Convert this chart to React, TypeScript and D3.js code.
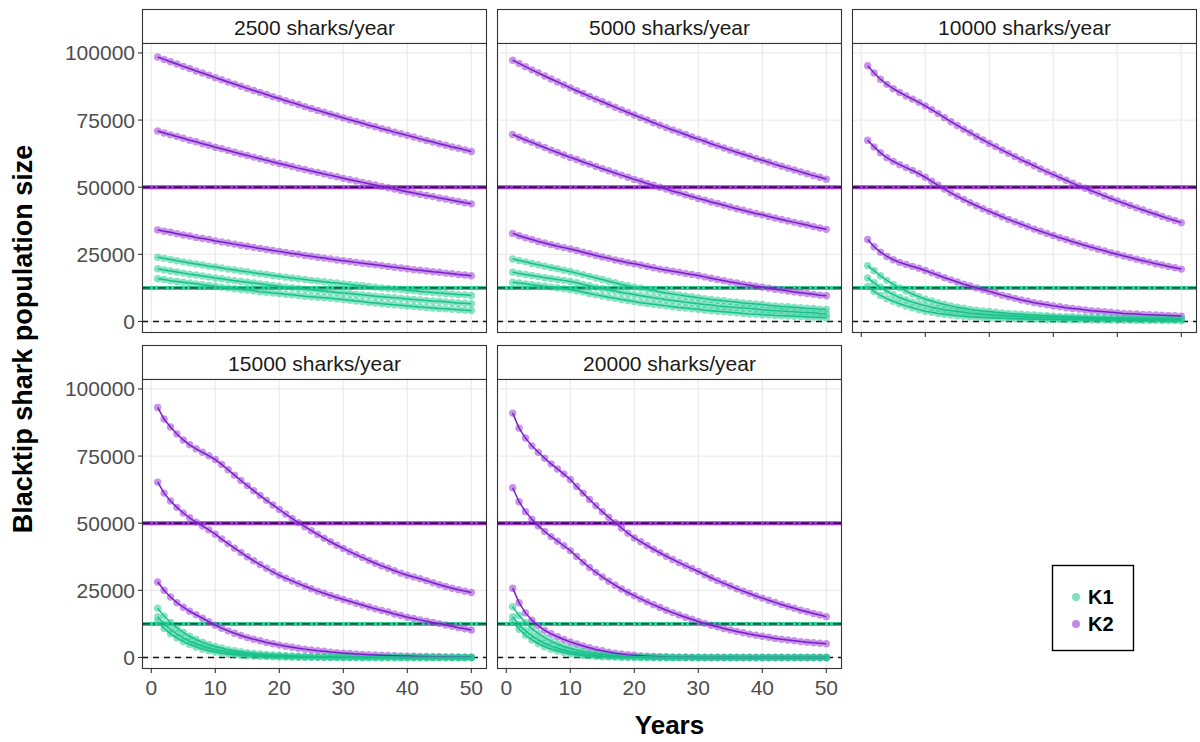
import React from "react";
import * as d3 from "d3";

// Years (x values)
const years = [1,2,3,4,5,6,7,8,9,10,11,12,13,14,15,16,17,18,19,20,21,22,23,24,25,26,27,28,29,30,31,32,33,34,35,36,37,38,39,40,41,42,43,44,45,46,47,48,49,50];

const panelLabels = ["2500 sharks/year", "5000 sharks/year", "10000 sharks/year", "15000 sharks/year", "20000 sharks/year"];
const xTicks = [0, 10, 20, 30, 40, 50];
const yTicks = [0, 25000, 50000, 75000, 100000];
const yTickLabels = ["0", "25000", "50000", "75000", "100000"];
const K1_line = 12500;
const K2_line = 50000;
const legendLabels = ["K1", "K2"];

// Population sizes in thousands of sharks
const h2500_K2a = [98.5,97.6,96.7,95.9,95.0,94.2,93.3,92.5,91.7,90.8,90.0,89.2,88.4,87.6,86.8,86.0,85.3,84.5,83.7,83.0,82.2,81.5,80.8,80.0,79.3,78.6,77.9,77.2,76.5,75.8,75.1,74.5,73.8,73.1,72.5,71.8,71.2,70.5,69.9,69.3,68.7,68.0,67.4,66.8,66.2,65.6,65.0,64.5,63.9,63.3];
const h2500_K2b = [70.9,70.2,69.5,68.9,68.2,67.5,66.9,66.2,65.6,64.9,64.3,63.7,63.0,62.4,61.8,61.2,60.6,60.0,59.4,58.8,58.3,57.7,57.1,56.6,56.0,55.5,54.9,54.4,53.9,53.3,52.8,52.3,51.8,51.3,50.8,50.3,49.8,49.3,48.8,48.3,47.8,47.4,46.9,46.5,46.0,45.6,45.1,44.7,44.2,43.8];
const h2500_K2c = [34.1,33.6,33.2,32.7,32.2,31.8,31.3,30.9,30.5,30.0,29.6,29.2,28.8,28.4,28.0,27.6,27.2,26.8,26.4,26.1,25.7,25.3,25.0,24.6,24.3,23.9,23.6,23.3,22.9,22.6,22.3,22.0,21.7,21.4,21.1,20.8,20.5,20.2,19.9,19.6,19.3,19.1,18.8,18.5,18.3,18.0,17.8,17.5,17.3,17.0];
const h2500_K1a = [23.9,23.5,23.1,22.6,22.2,21.8,21.4,21.0,20.6,20.3,19.9,19.5,19.2,18.8,18.5,18.1,17.8,17.5,17.1,16.8,16.5,16.2,15.9,15.6,15.3,15.1,14.8,14.5,14.3,14.0,13.8,13.5,13.3,13.0,12.8,12.5,12.3,12.1,11.9,11.6,11.4,11.2,11.0,10.8,10.6,10.4,10.2,10.0,9.9,9.7];
const h2500_K1b = [19.6,19.2,18.8,18.4,18.0,17.6,17.3,16.9,16.6,16.2,15.9,15.5,15.2,14.9,14.6,14.3,14.0,13.7,13.4,13.1,12.8,12.6,12.3,12.0,11.8,11.5,11.3,11.1,10.8,10.6,10.4,10.1,9.9,9.7,9.4,9.2,9.0,8.8,8.6,8.4,8.2,8.0,7.8,7.6,7.5,7.3,7.1,6.9,6.8,6.6];
const h2500_K1c = [15.9,15.6,15.2,14.9,14.6,14.3,14.0,13.7,13.4,13.1,12.8,12.5,12.2,11.9,11.7,11.4,11.1,10.9,10.6,10.4,10.1,9.9,9.7,9.4,9.2,9.0,8.8,8.6,8.4,8.2,7.9,7.6,7.4,7.1,6.9,6.6,6.4,6.2,6.0,5.8,5.6,5.4,5.2,5.0,4.8,4.7,4.5,4.4,4.2,4.1];

const h5000_K2a = [97.3,96.1,94.9,93.7,92.6,91.4,90.3,89.2,88.1,87.0,85.9,84.9,83.8,82.8,81.8,80.8,79.8,78.8,77.8,76.9,75.9,75.0,74.0,73.1,72.2,71.3,70.5,69.6,68.7,67.9,67.1,66.2,65.4,64.6,63.8,63.0,62.3,61.5,60.7,60.0,59.3,58.5,57.8,57.1,56.4,55.7,55.0,54.3,53.7,53.0];
const h5000_K2b = [69.6,68.6,67.6,66.7,65.7,64.8,63.8,62.9,62.0,61.1,60.3,59.4,58.6,57.7,56.9,56.1,55.3,54.5,53.7,52.9,52.2,51.4,50.7,50.0,49.3,48.5,47.9,47.2,46.5,45.8,45.2,44.5,43.9,43.3,42.6,42.0,41.4,40.8,40.2,39.7,39.1,38.5,38.0,37.4,36.9,36.4,35.9,35.3,34.8,34.3];
const h5000_K2c = [32.8,31.9,31.2,30.5,29.8,29.2,28.6,28.0,27.5,27.0,26.4,25.8,25.2,24.6,24.0,23.5,22.9,22.4,21.9,21.5,21.0,20.5,20.0,19.5,19.1,18.7,18.3,17.9,17.5,17.1,16.6,16.1,15.6,15.2,14.7,14.3,13.9,13.5,13.1,12.8,12.4,12.0,11.7,11.3,11.0,10.7,10.4,10.1,9.8,9.6];
const h5000_K1a = [23.3,22.7,22.2,21.6,21.1,20.6,20.1,19.6,19.1,18.6,18.0,17.4,16.8,16.2,15.6,15.0,14.4,13.8,13.3,12.8,12.4,11.9,11.5,11.0,10.6,10.2,9.9,9.5,9.2,8.8,8.5,8.2,7.9,7.7,7.4,7.2,6.9,6.7,6.5,6.3,6.0,5.8,5.6,5.5,5.3,5.1,4.9,4.8,4.6,4.5];
const h5000_K1b = [18.3,17.9,17.5,17.1,16.7,16.3,16.0,15.6,15.3,14.9,14.4,13.8,13.3,12.7,12.2,11.7,11.3,10.8,10.4,10.0,9.6,9.2,8.8,8.5,8.1,7.8,7.5,7.2,6.9,6.6,6.3,6.1,5.8,5.6,5.4,5.2,5.0,4.8,4.6,4.4,4.2,4.0,3.9,3.7,3.6,3.4,3.3,3.2,3.0,2.9];
const h5000_K1c = [14.6,14.3,14.0,13.7,13.4,13.1,12.8,12.5,12.2,11.8,11.4,11.0,10.4,9.9,9.5,9.0,8.6,8.2,7.8,7.4,7.0,6.7,6.4,6.1,5.8,5.5,5.2,5.0,4.7,4.5,4.2,4.0,3.8,3.6,3.4,3.2,3.0,2.8,2.7,2.5,2.4,2.2,2.1,2.0,1.9,1.8,1.7,1.6,1.5,1.4];

const h10000_K2a = [95.2,92.5,90.2,88.3,86.7,85.3,84.0,82.8,81.6,80.3,78.9,77.4,75.9,74.4,73.0,71.6,70.3,68.9,67.6,66.3,65.1,63.8,62.6,61.4,60.2,59.1,58.0,56.8,55.7,54.7,53.6,52.6,51.5,50.5,49.6,48.6,47.7,46.7,45.8,44.9,44.0,43.2,42.3,41.5,40.7,39.9,39.1,38.3,37.6,36.8];
const h10000_K2b = [67.5,65.0,62.8,61.0,59.6,58.4,57.3,56.2,55.0,53.7,52.2,50.7,49.3,47.9,46.6,45.4,44.2,43.1,42.0,41.0,40.0,39.0,38.0,37.1,36.2,35.3,34.4,33.6,32.8,32.0,31.2,30.5,29.7,29.0,28.3,27.6,26.9,26.3,25.6,25.0,24.4,23.8,23.2,22.6,22.1,21.5,21.0,20.5,20.0,19.5];
const h10000_K2c = [30.5,27.8,25.8,24.2,23.0,22.0,21.2,20.5,19.8,19.0,18.1,17.2,16.3,15.5,14.7,13.9,13.2,12.5,11.8,11.2,10.5,9.8,9.2,8.6,8.0,7.5,7.0,6.6,6.2,5.8,5.5,5.1,4.8,4.6,4.3,4.0,3.8,3.6,3.4,3.2,3.0,2.9,2.8,2.6,2.5,2.4,2.3,2.2,2.1,2.0];
const h10000_K1a = [20.8,18.9,17.0,15.3,13.8,12.5,11.3,10.2,9.2,8.3,7.6,6.9,6.3,5.8,5.3,4.9,4.5,4.2,3.9,3.7,3.4,3.2,3.0,2.8,2.7,2.5,2.4,2.2,2.1,2.0,1.9,1.8,1.75,1.7,1.6,1.55,1.5,1.45,1.4,1.35,1.3,1.3,1.25,1.2,1.2,1.15,1.1,1.1,1.05,1.0];
const h10000_K1b = [16.2,14.4,12.8,11.3,10.0,8.9,8.0,7.2,6.5,5.9,5.3,4.8,4.4,4.0,3.7,3.4,3.1,2.9,2.7,2.5,2.3,2.2,2.0,1.9,1.8,1.7,1.6,1.5,1.45,1.4,1.3,1.25,1.2,1.15,1.1,1.05,1.0,0.98,0.95,0.92,0.9,0.87,0.85,0.82,0.8,0.78,0.76,0.74,0.72,0.7];
const h10000_K1c = [13.0,11.2,9.7,8.5,7.5,6.6,5.8,5.1,4.4,3.8,3.4,3.0,2.7,2.4,2.1,1.9,1.7,1.6,1.5,1.4,1.3,1.2,1.1,1.0,0.95,0.9,0.85,0.8,0.75,0.7,0.68,0.65,0.62,0.6,0.58,0.55,0.52,0.5,0.48,0.46,0.44,0.42,0.4,0.39,0.37,0.36,0.34,0.33,0.32,0.3];

const h15000_K2a = [93.1,88.8,85.8,83.2,81.0,79.2,77.7,76.4,75.1,73.7,71.9,69.9,67.9,65.9,64.0,62.1,60.3,58.5,56.8,55.1,53.4,51.8,50.2,48.7,47.2,45.8,44.4,43.1,41.8,40.6,39.4,38.3,37.2,36.1,35.1,34.1,33.2,32.3,31.4,30.6,30.0,29.3,28.6,27.8,27.1,26.4,25.8,25.2,24.7,24.2];
const h15000_K2b = [65.3,61.2,58.3,55.9,53.8,52.0,50.4,49.0,47.5,45.9,44.1,42.4,40.7,39.1,37.5,36.0,34.6,33.2,31.9,30.6,29.5,28.5,27.5,26.5,25.6,24.7,23.9,23.1,22.3,21.6,20.9,20.2,19.5,18.8,18.1,17.5,16.9,16.2,15.6,15.0,14.5,14.0,13.5,13.0,12.6,12.1,11.6,11.1,10.7,10.2];
const h15000_K2c = [28.1,25.0,22.5,20.4,18.7,17.2,15.9,14.6,13.3,12.0,10.9,9.9,9.0,8.2,7.4,6.8,6.2,5.6,5.1,4.6,4.2,3.8,3.4,3.1,2.8,2.5,2.3,2.0,1.8,1.6,1.45,1.3,1.15,1.0,0.9,0.8,0.72,0.64,0.57,0.5,0.44,0.39,0.34,0.3,0.26,0.22,0.19,0.16,0.13,0.1];
const h15000_K1a = [18.3,15.4,13.0,11.0,9.3,7.9,6.7,5.7,4.8,4.1,3.5,2.9,2.5,2.1,1.8,1.5,1.3,1.1,0.9,0.8,0.65,0.55,0.45,0.38,0.32,0.27,0.22,0.18,0.15,0.12,0.1,0.08,0.07,0.06,0.05,0.04,0.03,0.03,0.02,0.02,0.02,0.01,0.01,0.01,0.01,0,0,0,0,0];
const h15000_K1b = [15.2,12.6,10.5,8.8,7.3,6.1,5.1,4.2,3.5,2.9,2.4,2.0,1.7,1.4,1.15,0.95,0.8,0.65,0.55,0.45,0.37,0.3,0.25,0.2,0.16,0.13,0.1,0.08,0.06,0.05,0.04,0.03,0.02,0.02,0.01,0.01,0.01,0,0,0,0,0,0,0,0,0,0,0,0,0];
const h15000_K1c = [13.3,10.8,8.8,7.2,5.9,4.8,3.9,3.1,2.5,2.0,1.6,1.3,1.0,0.8,0.65,0.5,0.4,0.32,0.25,0.2,0.15,0.12,0.09,0.07,0.05,0.04,0.03,0.02,0.01,0.01,0,0,0,0,0,0,0,0,0,0,0,0,0,0,0,0,0,0,0,0];

const h20000_K2a = [91.0,85.4,81.7,78.8,76.4,74.2,72.1,70.2,68.3,66.3,63.7,61.2,58.8,56.5,54.3,52.2,50.2,48.2,46.3,44.5,43.1,41.7,40.3,39.0,37.7,36.5,35.3,34.2,33.1,32.0,30.8,29.7,28.6,27.6,26.6,25.6,24.7,23.8,22.9,22.1,21.3,20.5,19.7,19.0,18.3,17.6,17.0,16.4,15.8,15.2];
const h20000_K2b = [63.2,58.0,54.3,51.5,49.0,46.9,45.0,43.3,41.6,39.8,37.6,35.5,33.5,31.7,30.0,28.4,26.9,25.5,24.2,23.0,21.8,20.7,19.6,18.6,17.6,16.7,15.8,15.0,14.2,13.4,12.7,12.0,11.4,10.8,10.2,9.7,9.2,8.7,8.3,7.9,7.5,7.1,6.8,6.5,6.2,5.9,5.7,5.5,5.3,5.1];
const h20000_K2c = [25.8,20.4,16.6,13.9,11.8,10.1,8.8,7.7,6.7,5.8,5.0,4.3,3.6,3.0,2.5,2.0,1.6,1.3,1.0,0.8,0.6,0.45,0.35,0.25,0.18,0.12,0.08,0.05,0.03,0.02,0,0,0,0,0,0,0,0,0,0,0,0,0,0,0,0,0,0,0,0];
const h20000_K1a = [18.9,15.6,12.9,10.7,8.9,7.4,6.1,5.0,4.1,3.4,2.8,2.2,1.8,1.4,1.1,0.85,0.65,0.5,0.38,0.28,0.2,0.14,0.1,0.07,0.05,0.03,0.02,0.01,0.01,0,0,0,0,0,0,0,0,0,0,0,0,0,0,0,0,0,0,0,0,0];
const h20000_K1b = [15.2,12.3,10.0,8.1,6.6,5.3,4.3,3.4,2.7,2.1,1.7,1.3,1.0,0.75,0.55,0.4,0.3,0.2,0.14,0.1,0.07,0.05,0.03,0.02,0.01,0,0,0,0,0,0,0,0,0,0,0,0,0,0,0,0,0,0,0,0,0,0,0,0,0];
const h20000_K1c = [13.3,10.5,8.3,6.5,5.1,4.0,3.1,2.4,1.8,1.4,1.0,0.75,0.55,0.4,0.28,0.2,0.13,0.08,0.05,0.03,0.02,0.01,0,0,0,0,0,0,0,0,0,0,0,0,0,0,0,0,0,0,0,0,0,0,0,0,0,0,0,0];

const panelK1 = [
  [h2500_K1a, h2500_K1b, h2500_K1c],
  [h5000_K1a, h5000_K1b, h5000_K1c],
  [h10000_K1a, h10000_K1b, h10000_K1c],
  [h15000_K1a, h15000_K1b, h15000_K1c],
  [h20000_K1a, h20000_K1b, h20000_K1c],
];
const panelK2 = [
  [h2500_K2a, h2500_K2b, h2500_K2c],
  [h5000_K2a, h5000_K2b, h5000_K2c],
  [h10000_K2a, h10000_K2b, h10000_K2c],
  [h15000_K2a, h15000_K2b, h15000_K2c],
  [h20000_K2a, h20000_K2b, h20000_K2c],
];

const FONT = "'Liberation Sans', Arial, Helvetica, sans-serif";
const K1_POINT = "#26CC94";
const K1_LINE = "#19C08A";
const K2_POINT = "#9A3DD8";
const K2_LINE = "#7A1FC8";
const K1_BAND = "#2BD39A";
const K2_BAND = "#9B35D6";

const colX = [142, 497, 852];
const rowY = [9, 345];
const PW = 345;
const PH = 290;
const SH = 34;

export default function App() {
  const x = d3.scaleLinear().domain([-1.45, 52.45]).range([0, PW]);
  const y = d3.scaleLinear().domain([-4300, 103700]).range([PH, 0]);
  const line = d3
    .line<number>()
    .x((_, i) => x(years[i]))
    .y((d) => y(d * 1000));

  const panels = panelLabels.map((label, p) => {
    const col = p % 3;
    const row = Math.floor(p / 3);
    const left = colX[col];
    const stripTop = rowY[row];
    const top = stripTop + SH;
    const showY = col === 0;
    const showXTicks = p >= 2;
    const showXLabels = p >= 3;
    return (
      <g key={label}>
        {/* strip */}
        <rect x={left + 0.5} y={stripTop + 0.5} width={PW - 1} height={SH} fill="#fff" stroke="#333" strokeWidth={1.1} />
        <text x={left + PW / 2} y={stripTop + SH / 2 + 1} textAnchor="middle" dominantBaseline="central" fontSize={21} fill="#1a1a1a" fontFamily={FONT}>
          {label}
        </text>
        <g transform={`translate(${left},${top})`}>
          <rect x={0} y={0} width={PW} height={PH} fill="#fff" />
          {xTicks.map((t) => (
            <line key={"gx" + t} x1={x(t)} x2={x(t)} y1={0} y2={PH} stroke="#EBEBEB" strokeWidth={1.2} />
          ))}
          {yTicks.map((t) => (
            <line key={"gy" + t} x1={0} x2={PW} y1={y(t)} y2={y(t)} stroke="#EBEBEB" strokeWidth={1.2} />
          ))}
          {/* reference lines */}
          <line x1={0} x2={PW} y1={y(K2_line)} y2={y(K2_line)} stroke={K2_BAND} strokeWidth={4} />
          <line x1={0} x2={PW} y1={y(K2_line)} y2={y(K2_line)} stroke="#111" strokeWidth={1.4} strokeDasharray="8 3 2 3" />
          <line x1={0} x2={PW} y1={y(K1_line)} y2={y(K1_line)} stroke={K1_BAND} strokeWidth={4} />
          <line x1={0} x2={PW} y1={y(K1_line)} y2={y(K1_line)} stroke="#111" strokeWidth={1.4} strokeDasharray="8 3 2 3" />
          <line x1={0} x2={PW} y1={y(0)} y2={y(0)} stroke="#111" strokeWidth={1.4} strokeDasharray="6 5" />
          {/* points */}
          {panelK2[p].map((s, si) =>
            s.map((v, i) => (
              <circle key={`p2-${si}-${i}`} cx={x(years[i])} cy={y(v * 1000)} r={3.7} fill={K2_POINT} fillOpacity={0.55} />
            ))
          )}
          {panelK1[p].map((s, si) =>
            s.map((v, i) => (
              <circle key={`p1-${si}-${i}`} cx={x(years[i])} cy={y(v * 1000)} r={3.7} fill={K1_POINT} fillOpacity={0.55} />
            ))
          )}
          {/* lines */}
          {panelK2[p].map((s, si) => (
            <path key={`l2-${si}`} d={line(s) || ""} fill="none" stroke={K2_LINE} strokeWidth={1.5} />
          ))}
          {panelK1[p].map((s, si) => (
            <path key={`l1-${si}`} d={line(s) || ""} fill="none" stroke={K1_LINE} strokeWidth={1.5} />
          ))}
          {/* border */}
          <rect x={0.5} y={0.5} width={PW - 1} height={PH - 1} fill="none" stroke="#333" strokeWidth={1.1} />
          {/* y axis */}
          {showY &&
            yTicks.map((t, i) => (
              <g key={"yt" + t}>
                <line x1={-4} x2={0} y1={y(t)} y2={y(t)} stroke="#333" strokeWidth={1.1} />
                <text x={-7} y={y(t)} textAnchor="end" dominantBaseline="central" fontSize={21} fill="#4D4D4D" fontFamily={FONT}>
                  {yTickLabels[i]}
                </text>
              </g>
            ))}
          {showXTicks &&
            xTicks.map((t) => (
              <g key={"xt" + t}>
                <line x1={x(t)} x2={x(t)} y1={PH} y2={PH + 4} stroke="#333" strokeWidth={1.1} />
                {showXLabels && (
                  <text x={x(t)} y={PH + 26} textAnchor="middle" fontSize={21} fill="#4D4D4D" fontFamily={FONT}>
                    {t}
                  </text>
                )}
              </g>
            ))}
        </g>
      </g>
    );
  });

  const midY = (rowY[0] + rowY[1] + SH + PH) / 2;
  const midX = (colX[0] + colX[2] + PW) / 2;

  return (
    <svg width={1200} height={742} style={{ position: "absolute", left: 0, top: 0, background: "#fff" }}>
      <rect width={1200} height={742} fill="#fff" />
      {panels}
      <text
        transform={`translate(32,${midY}) rotate(-90)`}
        textAnchor="middle"
        fontSize={27}
        fontWeight="bold"
        fill="#000"
        fontFamily={FONT}
      >
        Blacktip shark population size
      </text>
      <text x={midX} y={734} textAnchor="middle" fontSize={26} fontWeight="bold" fill="#000" fontFamily={FONT}>
        Years
      </text>
      {/* legend */}
      <rect x={1052.5} y={565.5} width={81} height={85} fill="#fff" stroke="#000" strokeWidth={1.4} />
      {legendLabels.map((l, i) => (
        <g key={l}>
          <circle cx={1076} cy={597 + i * 27} r={4} fill={i === 0 ? K1_POINT : K2_POINT} fillOpacity={0.6} />
          <text x={1088} y={597 + i * 27} dominantBaseline="central" fontSize={20} fontWeight="bold" fill="#000" fontFamily={FONT}>
            {l}
          </text>
        </g>
      ))}
    </svg>
  );
}
